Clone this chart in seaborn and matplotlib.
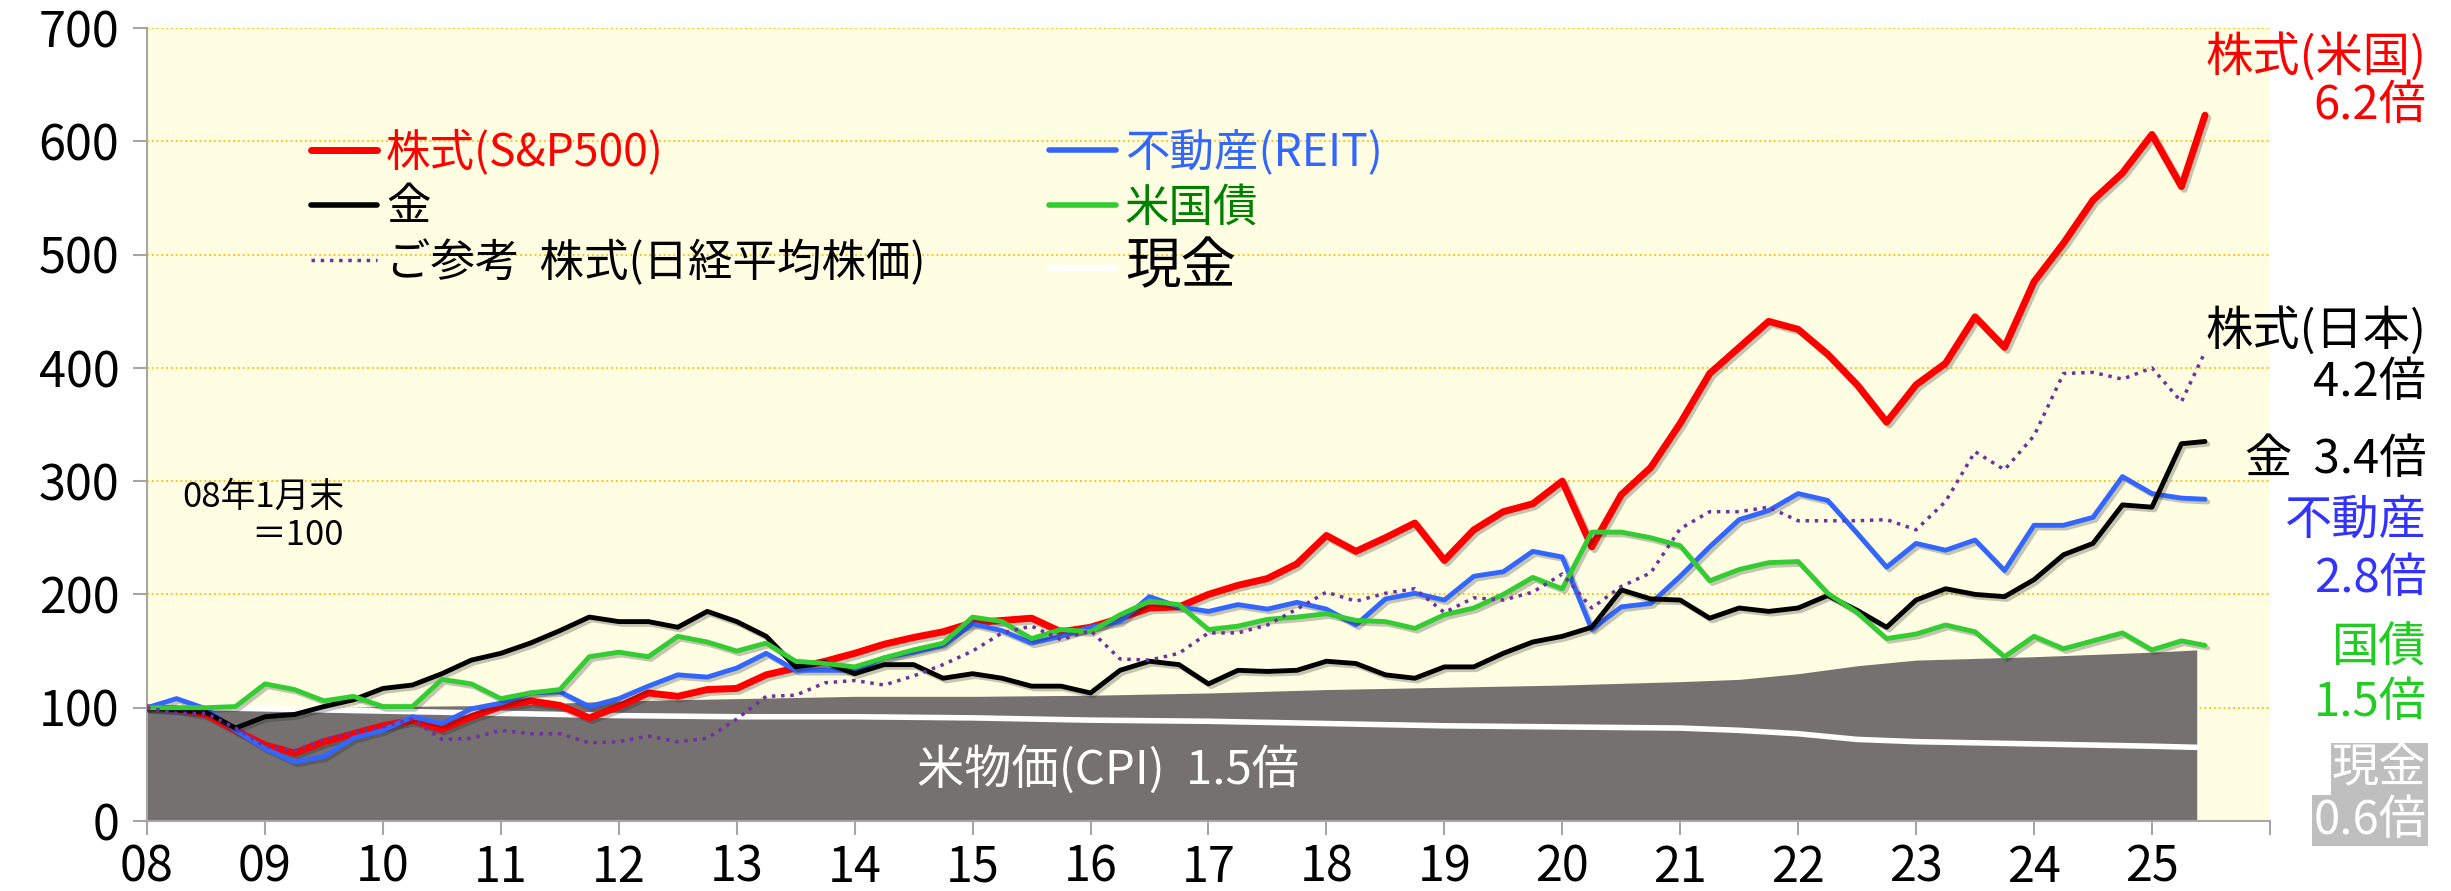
import numpy as np
import matplotlib
matplotlib.use("Agg")
import matplotlib.pyplot as plt
import matplotlib.patheffects as pe
from matplotlib.lines import Line2D
import seaborn as sns

# quarterly points (start of quarter), last one = latest month
quarters = list(np.arange(2008, 2025.26, 0.25)) + [2025.45]

sp500 = [100, 99, 94, 80, 67, 60, 70, 77, 84, 89, 81, 92, 101, 106, 102, 91,
         101, 113, 110, 116, 117, 129, 135, 141, 148, 156, 162, 167, 175, 177, 179, 167,
         171, 179, 188, 189, 200, 208, 214, 227, 252, 238, 250, 263, 230, 257, 273, 280,
         300, 242, 288, 312, 351, 395, 418, 441, 434, 412, 385, 352, 385, 404, 445, 418,
         476, 510, 548, 572, 606, 560, 623]
reit = [100, 108, 99, 80, 64, 52, 57, 73, 80, 92, 86, 99, 104, 113, 114, 101,
        108, 119, 129, 127, 135, 148, 133, 133, 133, 144, 149, 155, 174, 168, 157, 163,
        171, 176, 198, 189, 185, 191, 187, 193, 187, 173, 196, 201, 195, 216, 220, 238,
        233, 169, 189, 192, 216, 242, 266, 274, 289, 283, 254, 224, 245, 239, 248, 221,
        261, 261, 268, 304, 289, 285, 284]
gold = [100, 98, 96, 82, 92, 94, 101, 107, 117, 120, 130, 142, 148, 157, 168, 180,
        176, 176, 171, 185, 176, 163, 136, 140, 130, 138, 138, 126, 130, 126, 119, 119,
        113, 133, 141, 138, 121, 133, 132, 133, 141, 139, 129, 126, 136, 136, 148, 158,
        163, 171, 204, 196, 195, 179, 188, 185, 188, 199, 186, 171, 195, 205, 200, 198,
        213, 235, 245, 279, 277, 333, 335]
treasury = [100, 100, 100, 101, 121, 116, 106, 110, 101, 101, 125, 121, 108, 113, 116, 145,
            149, 145, 163, 158, 150, 157, 141, 139, 136, 144, 151, 157, 180, 176, 161, 169,
            167, 182, 194, 191, 169, 172, 178, 180, 183, 177, 176, 170, 182, 188, 200, 215,
            205, 255, 255, 250, 243, 212, 222, 228, 229, 201, 184, 161, 165, 173, 167, 145,
            163, 152, 159, 166, 151, 159, 155]
nikkei = [100, 95, 95, 82, 66, 62, 72, 78, 83, 90, 72, 73, 80, 77, 77, 69,
          70, 75, 70, 73, 90, 110, 111, 122, 124, 120, 128, 138, 150, 166, 172, 160,
          168, 143, 142, 148, 166, 166, 173, 187, 202, 194, 201, 205, 184, 197, 195, 202,
          218, 188, 207, 219, 258, 273, 273, 277, 265, 265, 265, 266, 257, 282, 326, 310,
          340, 395, 396, 390, 400, 370, 414]

# CPI (grey area) and cash (white line)
ref_years = [2008, 2008.5, 2009, 2010, 2011, 2012, 2013, 2014, 2015, 2016, 2017,
             2018, 2019, 2020, 2021, 2021.5, 2022, 2022.5, 2023, 2024, 2025, 2025.38]
cpi = [100, 102, 98, 101, 102, 106, 108, 110, 110, 111, 113,
       116, 118, 120, 123, 125, 130, 137, 142, 145, 149, 151]
cash = [100, 100, 99, 97, 95, 93, 92, 92, 91, 89, 88,
        86, 84, 83, 82, 80, 77, 72, 70, 68, 66, 65]

year_labels = ['08', '09', '10', '11', '12', '13', '14', '15', '16', '17', '18',
               '19', '20', '21', '22', '23', '24', '25', '']

sns.set_theme(style="white")
plt.rcParams['font.family'] = ['Noto Sans CJK JP', 'DejaVu Sans']

fig = plt.figure(figsize=(24.51, 8.91), dpi=100)
ax = fig.add_axes([0.060, 0.0786, 0.8661, 0.890])
ax.set_facecolor('#FFFDE2')

shadow = [pe.SimpleLineShadow(offset=(2, -2), alpha=0.25), pe.Normal()]

ax.fill_between(ref_years, 0, cpi, color='#767171', lw=0, zorder=2)
sns.lineplot(x=ref_years, y=cash, color='white', lw=4, ax=ax, zorder=3)

sns.lineplot(x=quarters, y=sp500, color='#FF0000', lw=5, ax=ax, zorder=4, path_effects=shadow)
sns.lineplot(x=quarters, y=reit, color='#3366FF', lw=3.5, ax=ax, zorder=5, path_effects=shadow)
sns.lineplot(x=quarters, y=gold, color='black', lw=3.5, ax=ax, zorder=6, path_effects=shadow)
sns.lineplot(x=quarters, y=treasury, color='#33CC33', lw=3.5, ax=ax, zorder=7, path_effects=shadow)
sns.lineplot(x=quarters, y=nikkei, color='#7030A0', lw=2.5, ls=':', ax=ax, zorder=8)

ax.set_xlim(2008, 2026)
ax.set_ylim(0, 700)
ax.set_xticks(range(2008, 2027))
ax.set_xticklabels(year_labels)
ax.set_yticks(range(0, 701, 100))
ax.yaxis.grid(True, color='#FFC000', linestyle=':', linewidth=1.3)
ax.set_axisbelow(True)
for s in ['top', 'right']:
    ax.spines[s].set_visible(False)
for s in ['left', 'bottom']:
    ax.spines[s].set_color('#A6A6A6')
    ax.spines[s].set_linewidth(1.5)
ax.tick_params(axis='both', direction='out', length=10, width=1.5, color='#A6A6A6',
               labelsize=35, labelcolor='black', bottom=True, left=True)
ax.tick_params(axis='y', pad=10)
ax.tick_params(axis='x', pad=6)
ax.set_xlabel('')
ax.set_ylabel('')

# legends (two columns)
h1 = [Line2D([], [], color='#FF0000', lw=5), Line2D([], [], color='black', lw=4),
      Line2D([], [], color='#7030A0', lw=2.5, ls=':')]
l1 = ['株式(S&P500)', '金', 'ご参考  株式(日経平均株価)']
leg1 = ax.legend(h1, l1, loc='upper left', bbox_to_anchor=(0.077, 0.872), frameon=False,
                 fontsize=32, handlelength=1.5, handletextpad=0.2, labelspacing=0.2,
                 borderaxespad=0, borderpad=0, labelcolor=['#FF0000', 'black', 'black'])
ax.add_artist(leg1)
h2 = [Line2D([], [], color='#3366FF', lw=4), Line2D([], [], color='#33CC33', lw=4),
      Line2D([], [], color='white', lw=4)]
l2 = ['不動産(REIT)', '米国債', '現金']
leg2 = ax.legend(h2, l2, loc='upper left', bbox_to_anchor=(0.425, 0.872), frameon=False,
                 fontsize=32, handlelength=1.5, handletextpad=0.2, labelspacing=0.2,
                 borderaxespad=0, borderpad=0, labelcolor=['#3366FF', '#008000', 'black'])
leg2.get_texts()[2].set_fontsize(40)

ax.text(2009.67, 269, '08年1月末\n＝100', fontsize=25, ha='right', va='center',
        multialignment='right', color='black', linespacing=1.1)
ax.text(2016.15, 45, '米物価(CPI)  1.5倍', fontsize=34, ha='center', va='center',
        color='white', zorder=9)

# right side annotations
fx = 0.990
fs = 34
fig.text(fx, 0.935, '株式(米国)', fontsize=fs, color='#FF0000', ha='right', va='center')
fig.text(fx, 0.881, '6.2倍', fontsize=fs, color='#FF0000', ha='right', va='center')
fig.text(fx, 0.628, '株式(日本)', fontsize=fs, color='black', ha='right', va='center')
fig.text(fx, 0.570, '4.2倍', fontsize=fs, color='black', ha='right', va='center')
fig.text(fx, 0.484, '金  3.4倍', fontsize=fs, color='black', ha='right', va='center')
fig.text(fx, 0.416, '不動産', fontsize=fs, color='#3333FF', ha='right', va='center')
fig.text(fx, 0.351, '2.8倍', fontsize=fs, color='#3333FF', ha='right', va='center')
fig.text(fx, 0.272, '国債', fontsize=fs, color='#22CC22', ha='right', va='center')
fig.text(fx, 0.211, '1.5倍', fontsize=fs, color='#22CC22', ha='right', va='center')
box = dict(facecolor='#BFBFBF', edgecolor='none', pad=1)
fig.text(fx, 0.137, '現金', fontsize=fs, color='white', ha='right', va='center', bbox=box)
fig.text(fx, 0.079, '0.6倍', fontsize=fs, color='white', ha='right', va='center', bbox=box)

fig.savefig('out.png', dpi=100)
